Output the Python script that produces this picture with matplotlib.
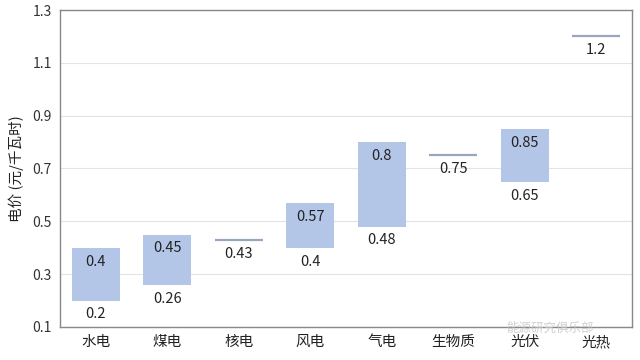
import matplotlib
matplotlib.use("Agg")
import matplotlib.pyplot as plt

plt.rcParams['font.family'] = ['Noto Sans CJK SC', 'DejaVu Sans']

categories = ['水电', '煤电', '核电', '风电', '气电', '生物质', '光伏', '光热']
low = [0.2, 0.26, 0.43, 0.4, 0.48, 0.75, 0.65, 1.2]
high = [0.4, 0.45, 0.43, 0.57, 0.8, 0.75, 0.85, 1.2]
yticks = [0.1, 0.3, 0.5, 0.7, 0.9, 1.1, 1.3]

fig = plt.figure(figsize=(6.4, 3.6), dpi=100)
ax = fig.add_axes([0.09375, 0.0917, 0.89375, 0.8805])

x = list(range(len(categories)))
w = 0.67
bar_color = '#b4c6e7'
line_color = '#99a6c0'

for i, (lo, hi) in enumerate(zip(low, high)):
    if hi > lo:
        ax.bar(i, hi - lo, bottom=lo, width=w, color=bar_color, zorder=2)
        ax.annotate(f'{hi:g}', (i, hi), xytext=(0, -10), textcoords='offset points',
                    ha='center', va='center', fontsize=10.5, color='#222222', zorder=3)
        ax.annotate(f'{lo:g}', (i, lo), xytext=(0, -10), textcoords='offset points',
                    ha='center', va='center', fontsize=10.5, color='#222222', zorder=3)
    else:
        ax.plot([i - w / 2, i + w / 2], [lo, lo], color=line_color, lw=1.6, zorder=2,
                solid_capstyle='butt')
        ax.annotate(f'{lo:g}', (i, lo), xytext=(0, -10), textcoords='offset points',
                    ha='center', va='center', fontsize=10.5, color='#222222', zorder=3)

ax.set_xlim(-0.5, len(categories) - 0.5)
ax.set_ylim(0.1, 1.3)
ax.set_yticks(yticks)
ax.set_yticklabels([f'{t:.1f}' for t in yticks], fontsize=10, color='#333333')
ax.set_xticks(x)
ax.set_xticklabels(categories, fontsize=10.5, color='#222222')
ax.tick_params(axis='both', length=0, pad=6)
ax.yaxis.grid(True, color='#e3e3e3', lw=0.8, zorder=0)
ax.set_axisbelow(True)
for s in ax.spines.values():
    s.set_color('#888888')
    s.set_linewidth(1.0)
ax.set_ylabel('电价 (元/千瓦时)', fontsize=10.5, color='#222222', labelpad=6)

fig.text(0.86, 0.088, '能源研究俱乐部', fontsize=9, color='#c4c4c4', alpha=0.8,
         ha='center', va='center')

fig.savefig('out.png', dpi=100)
